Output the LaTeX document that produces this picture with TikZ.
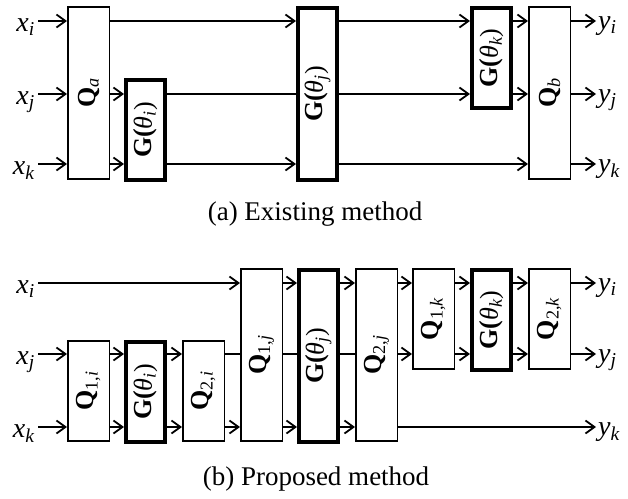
\documentclass[tikz,border=0pt]{standalone}
\usepackage{fontspec}
\setmainfont{Liberation Serif}
\usetikzlibrary{arrows.meta}
\newcommand{\ivar}[2]{\textit{#1}\textsubscript{\textit{#2}}} % переменная с индексом
\newcommand{\qblk}[1]{\rotatebox{90}{\textbf{Q}\textsubscript{#1}}} % блок Q, повернутый
\newcommand{\gthet}[1]{\rotatebox{90}{\textbf{G(}\textit{θ}\textsubscript{\textit{#1}})}} % блок G
\begin{document}
\begin{tikzpicture}[x=1pt,y=-1pt,font=\fontsize{26}{30}\selectfont]
\tikzstyle{qbox} = [draw, line width=1.5pt, minimum width=41.5pt, inner sep=0pt, anchor=north west] % Q block style
\tikzstyle{gbox} = [draw, line width=4pt, minimum width=39pt, inner sep=0pt, anchor=north west] % G block style (жирная рамка)
\tikzstyle{tall} = [minimum height=172pt] % на все три линии
\tikzstyle{short} = [minimum height=100pt] % на две линии
\tikzstyle{wire} = [line width=1.8pt]
\tikzstyle{arr} = [wire, -{Straight Barb[length=9pt,width=13pt]}]
\tikzstyle{inlab} = [anchor=base east, inner sep=3pt, yshift=-10pt, font=\fontsize{28}{32}\selectfont] % входы x
\tikzstyle{outlab} = [anchor=base west, inner sep=2pt, yshift=-8pt, font=\fontsize{28}{32}\selectfont] % выходы y
\tikzstyle{caption} = [font=\fontsize{27}{32}\selectfont]
\useasboundingbox (0,0) rectangle (628,498);
% (a) существующий метод
\coordinate (ai) at (0,21); \coordinate (aj) at (0,94); \coordinate (ak) at (0,164);
\node[qbox, tall] (Qa) at (67,6) {\qblk{\textit{a}}};
\node[gbox, short] (Gi) at (124,78) {\gthet{i}};
\node[gbox, tall] (Gj) at (296,6) {\gthet{j}};
\node[gbox, short] (Gk) at (470,6) {\gthet{k}};
\node[qbox, tall] (Qb) at (528,6) {\qblk{\textit{b}}};
\node[inlab] (xi) at (38,21) {\ivar{x}{i}};
\node[inlab] (xj) at (38,94) {\ivar{x}{j}};
\node[inlab] (xk) at (38,164) {\ivar{x}{k}};
\node[outlab] (yi) at (596,21) {\ivar{y}{i}};
\node[outlab] (yj) at (596,94) {\ivar{y}{j}};
\node[outlab] (yk) at (596,164) {\ivar{y}{k}};
\draw[arr] (xi.east |- ai) -- (Qa.west |- ai);
\draw[arr] (xj.east |- aj) -- (Qa.west |- aj);
\draw[arr] (xk.east |- ak) -- (Qa.west |- ak);
\draw[arr] (Qa.east |- ai) -- (Gj.west |- ai);
\draw[arr] (Qa.east |- aj) -- (Gi.west |- aj);
\draw[arr] (Qa.east |- ak) -- (Gi.west |- ak);
\draw[wire] (Gi.east |- aj) -- (Gj.west |- aj);
\draw[arr] (Gi.east |- ak) -- (Gj.west |- ak);
\draw[arr] (Gj.east |- ai) -- (Gk.west |- ai);
\draw[arr] (Gj.east |- aj) -- (Gk.west |- aj);
\draw[arr] (Gj.east |- ak) -- (Qb.west |- ak);
\draw[arr] (Gk.east |- ai) -- (Qb.west |- ai);
\draw[arr] (Gk.east |- aj) -- (Qb.west |- aj);
\draw[arr] (Qb.east |- ai) -- (yi.west |- ai);
\draw[arr] (Qb.east |- aj) -- (yj.west |- aj);
\draw[arr] (Qb.east |- ak) -- (yk.west |- ak);
\node[caption] (capa) at (315,214) {(a) Existing method};
% (b) предлагаемый метод
\coordinate (bi) at (0,283); \coordinate (bj) at (0,354); \coordinate (bk) at (0,427);
\node[qbox, short] (Q1i) at (67,340) {\qblk{1,\textit{i}}};
\node[gbox, short] (Hi) at (124,340) {\gthet{i}};
\node[qbox, short] (Q2i) at (182,340) {\qblk{2,\textit{i}}};
\node[qbox, tall] (Q1j) at (240,268) {\qblk{1,\textit{j}}};
\node[gbox, tall] (Hj) at (297,268) {\gthet{j}};
\node[qbox, tall] (Q2j) at (355,268) {\qblk{2,\textit{j}}};
\node[qbox, short] (Q1k) at (412,268) {\qblk{1,\textit{k}}};
\node[gbox, short] (Hk) at (470,268) {\gthet{k}};
\node[qbox, short] (Q2k) at (528,268) {\qblk{2,\textit{k}}};
\node[inlab] (ui) at (38,283) {\ivar{x}{i}};
\node[inlab] (uj) at (38,354) {\ivar{x}{j}};
\node[inlab] (uk) at (38,427) {\ivar{x}{k}};
\node[outlab] (vi) at (596,283) {\ivar{y}{i}};
\node[outlab] (vj) at (596,354) {\ivar{y}{j}};
\node[outlab] (vk) at (596,427) {\ivar{y}{k}};
\draw[arr] (ui.east |- bi) -- (Q1j.west |- bi);
\draw[arr] (uj.east |- bj) -- (Q1i.west |- bj);
\draw[arr] (uk.east |- bk) -- (Q1i.west |- bk);
\draw[arr] (Q1i.east |- bj) -- (Hi.west |- bj);
\draw[arr] (Q1i.east |- bk) -- (Hi.west |- bk);
\draw[arr] (Hi.east |- bj) -- (Q2i.west |- bj);
\draw[arr] (Hi.east |- bk) -- (Q2i.west |- bk);
\draw[wire] (Q2i.east |- bj) -- (Q1j.west |- bj);
\draw[arr] (Q2i.east |- bk) -- (Q1j.west |- bk);
\draw[arr] (Q1j.east |- bi) -- (Hj.west |- bi);
\draw[wire] (Q1j.east |- bj) -- (Hj.west |- bj);
\draw[arr] (Q1j.east |- bk) -- (Hj.west |- bk);
\draw[arr] (Hj.east |- bi) -- (Q2j.west |- bi);
\draw[wire] (Hj.east |- bj) -- (Q2j.west |- bj);
\draw[arr] (Hj.east |- bk) -- (Q2j.west |- bk);
\draw[arr] (Q2j.east |- bi) -- (Q1k.west |- bi);
\draw[arr] (Q2j.east |- bj) -- (Q1k.west |- bj);
\draw[arr] (Q2j.east |- bk) -- (vk.west |- bk);
\draw[arr] (Q1k.east |- bi) -- (Hk.west |- bi);
\draw[arr] (Q1k.east |- bj) -- (Hk.west |- bj);
\draw[arr] (Hk.east |- bi) -- (Q2k.west |- bi);
\draw[arr] (Hk.east |- bj) -- (Q2k.west |- bj);
\draw[arr] (Q2k.east |- bi) -- (vi.west |- bi);
\draw[arr] (Q2k.east |- bj) -- (vj.west |- bj);
\node[caption] (capb) at (316,479) {(b) Proposed method};
\end{tikzpicture}
\end{document}
